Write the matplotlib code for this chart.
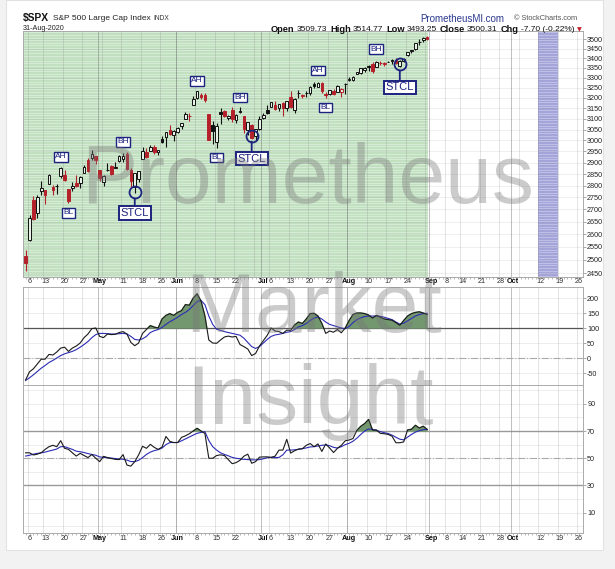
import numpy as np
import pandas as pd
import matplotlib
matplotlib.use('Agg')
import matplotlib.pyplot as plt
from matplotlib.patches import Rectangle
from matplotlib.collections import LineCollection
from matplotlib.ticker import FixedLocator, NullLocator

plt.rcParams['font.family'] = ['Liberation Sans', 'DejaVu Sans']

W, H = 615, 569

# ---------------- data ----------------
holidays = ['2020-04-10', '2020-05-25', '2020-07-03', '2020-09-07']
first_day, last_day = '2020-04-03', '2020-10-30'
prev_close = 2526.90

opens = [2514.92, 2578.28, 2738.65, 2685.00, 2776.99, 2782.46, 2805.10, 2795.64, 2799.34, 2842.43,
         2845.62, 2784.81, 2787.89, 2810.42, 2812.64, 2854.65, 2909.96, 2918.46, 2930.91,
         2869.09, 2815.01, 2868.88, 2883.14, 2878.26, 2908.83, 2915.46, 2939.50, 2865.86, 2794.54,
         2829.95, 2913.86, 2948.59, 2953.63, 2969.95, 2948.05, 3004.08, 3015.65, 3046.61, 3025.17,
         3038.78, 3064.78, 3098.90, 3111.56, 3163.84, 3199.92, 3213.32, 3213.42, 3123.53, 3071.04,
         2993.76, 3131.00, 3136.13, 3101.64, 3140.29, 3094.42, 3138.70, 3114.40, 3046.60, 3073.20,
         3018.59, 3050.20,
         3105.92, 3143.64, 3155.29, 3166.44, 3153.07, 3176.17, 3152.47, 3205.08, 3141.11, 3225.98,
         3208.36, 3224.21, 3224.29, 3268.52, 3254.86, 3271.64, 3218.58, 3219.84, 3234.27, 3227.22,
         3231.76, 3270.45,
         3288.26, 3289.92, 3317.37, 3323.17, 3340.05, 3356.04, 3370.34, 3355.46, 3372.95, 3368.66,
         3380.86, 3387.04, 3392.51, 3360.48, 3386.01, 3418.09, 3435.95, 3449.97, 3485.14, 3494.69,
         3509.73]
highs = [2538.18, 2676.85, 2756.89, 2760.75, 2818.57, 2782.46, 2851.85, 2801.88, 2806.51, 2879.22,
         2868.98, 2785.54, 2815.10, 2844.90, 2842.71, 2887.72, 2921.15, 2954.86, 2930.91,
         2869.09, 2844.24, 2898.23, 2891.11, 2901.92, 2932.16, 2944.25, 2945.82, 2874.14, 2852.80,
         2865.01, 2968.09, 2964.21, 2980.29, 2978.50, 2956.76, 3021.72, 3036.25, 3068.67, 3049.17,
         3062.18, 3081.07, 3130.94, 3128.91, 3211.72, 3233.13, 3222.71, 3223.27, 3123.53, 3088.42,
         3079.76, 3153.45, 3141.16, 3120.00, 3155.53, 3120.92, 3154.90, 3115.01, 3086.25, 3073.73,
         3053.89, 3111.51,
         3128.44, 3165.81, 3182.59, 3184.15, 3171.80, 3179.78, 3186.82, 3235.32, 3200.95, 3238.28,
         3220.39, 3233.52, 3258.61, 3277.29, 3279.32, 3279.99, 3227.26, 3241.43, 3243.72, 3264.74,
         3250.92, 3272.17,
         3302.73, 3306.84, 3330.77, 3351.03, 3352.54, 3363.29, 3381.01, 3387.89, 3387.24, 3378.51,
         3387.59, 3395.06, 3399.54, 3390.80, 3399.96, 3432.09, 3444.21, 3481.07, 3501.38, 3509.23,
         3514.77]
lows = [2459.96, 2574.57, 2657.67, 2663.30, 2762.36, 2721.17, 2805.10, 2761.54, 2764.32, 2830.88,
        2820.43, 2727.10, 2775.95, 2794.26, 2791.76, 2852.89, 2860.71, 2912.16, 2892.47,
        2821.61, 2797.85, 2863.55, 2847.65, 2876.48, 2902.88, 2903.44, 2869.59, 2793.15, 2766.64,
        2816.78, 2913.86, 2922.35, 2953.63, 2938.57, 2933.59, 2988.17, 2969.75, 3023.40, 2998.61,
        3031.54, 3051.64, 3098.90, 3090.41, 3163.84, 3196.00, 3193.11, 3181.49, 2999.49, 2984.47,
        2965.66, 3076.06, 3108.03, 3093.51, 3083.11, 3079.39, 3127.12, 3032.13, 3024.01, 3004.63,
        2999.74, 3047.83,
        3101.17, 3124.52, 3155.29, 3142.93, 3136.53, 3115.70, 3136.22, 3149.43, 3127.66, 3200.76,
        3198.59, 3205.65, 3215.16, 3247.77, 3253.10, 3222.66, 3200.05, 3214.25, 3216.17, 3227.22,
        3204.13, 3220.26,
        3284.53, 3286.37, 3317.37, 3318.14, 3328.72, 3335.44, 3326.44, 3355.46, 3363.35, 3361.64,
        3379.22, 3370.15, 3369.66, 3354.69, 3379.31, 3413.13, 3425.84, 3444.15, 3468.35, 3484.32,
        3493.25]
closes = [2488.65, 2663.68, 2659.41, 2749.98, 2789.82, 2761.63, 2846.06, 2783.36, 2799.55, 2874.56,
          2823.16, 2736.56, 2799.31, 2797.80, 2836.74, 2878.48, 2863.39, 2939.51, 2912.43,
          2830.71, 2842.74, 2868.44, 2848.42, 2881.19, 2929.80, 2930.19, 2870.12, 2820.00, 2852.50,
          2863.70, 2953.91, 2922.94, 2971.61, 2948.51, 2955.45, 2991.77, 3036.13, 3029.73, 3044.31,
          3055.73, 3080.82, 3122.87, 3112.35, 3193.93, 3232.39, 3207.18, 3190.14, 3002.10, 3041.31,
          3066.59, 3124.74, 3113.49, 3115.34, 3097.74, 3117.86, 3131.29, 3050.33, 3083.76, 3009.05,
          3053.24, 3100.29,
          3115.86, 3130.01, 3179.72, 3145.32, 3169.94, 3152.05, 3185.04, 3155.22, 3197.52, 3226.56,
          3215.57, 3224.73, 3251.84, 3257.30, 3276.02, 3235.66, 3215.63, 3239.41, 3218.44, 3258.44,
          3246.22, 3271.12,
          3294.61, 3306.51, 3327.77, 3349.16, 3351.28, 3360.47, 3333.69, 3380.35, 3373.43, 3372.85,
          3381.99, 3389.78, 3374.85, 3385.51, 3397.16, 3431.28, 3443.62, 3478.73, 3484.55, 3508.01,
          3500.31]

# upper oscillator (black) and its signal line (blue)
osc = [-73, -46, -36, -20, -4, -4, 12, 10, 20, 33, 36, 22, 33, 40, 50, 68, 80, 98, 100, 72,
       68, 80, 78, 79, 85, 88, 80, 52, 41, 50, 82, 95, 108, 103, 100, 130, 142, 148, 142, 152,
       158, 178, 176, 200, 214, 190, 140, 60, 50, 49, 60, 70, 73, 70, 72, 45, 38, 30, 8, 15,
       40, 58, 76, 100, 90, 88, 82, 93, 92, 110, 120, 115, 130, 148, 149, 140, 115, 82, 90, 86,
       95, 84, 100, 125, 145, 150, 150, 148, 143, 133, 142, 136, 130, 128, 126, 118, 109, 125, 140, 148,
       152, 154, 150, 145]
osc_sig = [-75, -66, -56, -45, -34, -25, -15, -8, 0, 8, 14, 18, 22, 28, 36, 45, 55, 68, 78, 82,
           82, 81, 80, 80, 81, 82, 80, 72, 62, 60, 64, 72, 85, 91, 95, 102, 112, 121, 128, 136,
           145, 152, 162, 175, 188, 192, 178, 140, 112, 96, 92, 88, 85, 82, 79, 76, 66, 52, 38, 32,
           38, 50, 62, 72, 77, 79, 82, 86, 88, 95, 104, 108, 115, 125, 133, 137, 130, 120, 112, 108,
           104, 100, 98, 105, 118, 128, 134, 138, 140, 140, 140, 139, 136, 132, 128, 120, 113, 116, 124, 132,
           140, 145, 148, 149]

# lower oscillator (black) and its signal line (blue)
rsi = [54, 54, 52.4, 53, 54, 56.5, 58.5, 59.5, 58.5, 62.9, 57.3, 56.5, 54, 51.6, 53.6, 52, 50.5, 52.7, 50, 47.5,
       51.4, 50.5, 49.8, 49.2, 49, 52.7, 45, 44.2, 47.5, 52.5, 58.8, 57.3, 60.2, 58, 56.5, 58.2, 66, 62.4, 61.5, 61.5,
       65.3, 66.5, 68, 70, 72, 70, 68.2, 50, 50, 52, 52.5, 52, 49, 46, 46.8, 48.5, 51.5, 53, 46.3, 47.5,
       50.8, 51, 51, 50.7, 51.5, 56, 56, 63.9, 53.8, 55.5, 56.8, 57, 59.5, 60.8, 58.5, 60.5, 55, 60.5, 57.5, 54.2,
       57.3, 59.5, 62.8, 63.4, 64.5, 70.5, 73.5, 75.5, 78.5, 70.7, 70.7, 68.3, 68, 67.5, 66.2, 61.4, 61.4, 62, 70.8, 71.3,
       74.2, 72.2, 73.5, 71.2]
rsi_sig = [51.6, 52.2, 53, 53.6, 54, 54.5, 55.3, 56, 56.8, 58.5, 58.5, 57.5, 56.5, 55.2, 54.8, 54.2, 53.4, 52.8, 52.2, 51,
           50.7, 50.4, 50.1, 49.8, 49.4, 49.3, 48.6, 47.6, 47.5, 48.5, 50.5, 52.8, 54.5, 55.6, 56.3, 57.5, 60, 61.5, 61.6, 61.6,
           62.8, 64.2, 65.6, 67, 68.3, 69, 69.5, 63, 58.5, 56, 54, 52.8, 51.8, 50.6, 50, 49.6, 49.2, 49, 48.8, 48.8,
           49, 49.6, 50.4, 50.6, 50.5, 50.6, 52.5, 56, 56, 56.2, 56.5, 57, 57.6, 58.3, 58.5, 59, 59.5, 59.8, 59.2, 58,
           57.5, 58.5, 60, 61, 62.5, 64.8, 67.5, 70, 71.5, 71.2, 70.4, 69.6, 68.8, 68.2, 67, 65.4, 64, 63.5, 65.5, 67.5,
           69.2, 70.3, 71, 71.2]

price_ticks = list(range(2450, 3501, 50))
osc_ticks = [200, 150, 100, 50, 0, -50]
rsi_ticks = [90, 70, 50, 30, 10]

date_labels = [('2020-04-06', '6'), ('2020-04-13', '13'), ('2020-04-20', '20'), ('2020-04-27', '27'),
               ('2020-05-01', 'May'), ('2020-05-11', '11'), ('2020-05-18', '18'), ('2020-05-26', '26'),
               ('2020-06-01', 'Jun'), ('2020-06-08', '8'), ('2020-06-15', '15'), ('2020-06-22', '22'),
               ('2020-07-01', 'Jul'), ('2020-07-06', '6'), ('2020-07-13', '13'), ('2020-07-20', '20'),
               ('2020-07-27', '27'), ('2020-08-03', 'Aug'), ('2020-08-10', '10'), ('2020-08-17', '17'),
               ('2020-08-24', '24'), ('2020-09-01', 'Sep'), ('2020-09-08', '8'), ('2020-09-14', '14'),
               ('2020-09-21', '21'), ('2020-09-28', '28'), ('2020-10-01', 'Oct'), ('2020-10-12', '12'),
               ('2020-10-19', '19'), ('2020-10-26', '26')]
month_names = ['May', 'Jun', 'Jul', 'Aug', 'Sep', 'Oct']

# pattern notes: label, date, price
notes = [('AH', '2020-04-17', 2925), ('BL', '2020-04-21', 2686), ('BH', '2020-05-11', 2993),
         ('AH', '2020-06-08', 3285), ('BL', '2020-06-15', 2922), ('BH', '2020-06-23', 3203),
         ('AH', '2020-07-22', 3336), ('BL', '2020-07-24', 3153), ('BH', '2020-08-12', 3447)]
# STCL: date, circle price, box price
stcl = [('2020-05-14', 2771, 2686), ('2020-06-26', 3022, 2918), ('2020-08-20', 3369, 3253)]
band_week = ('2020-10-12', '2020-10-16')

# ---------------- layout helpers ----------------
tdays = pd.bdate_range(first_day, last_day)
tdays = tdays[~tdays.isin(pd.to_datetime(holidays))]
pos = {d.strftime('%Y-%m-%d'): i for i, d in enumerate(tdays)}
n = len(closes)
x = np.arange(n)

week_starts = [i for i in range(1, len(tdays)) if tdays[i].weekday() < tdays[i - 1].weekday()]
month_starts = [i for i in range(1, len(tdays)) if tdays[i].month != tdays[i - 1].month]

navy = '#1c237e'
red = '#b5212b'
XL = (-0.67, 143.0)


def fx(px):
    return px / W


def fy(py):
    return 1 - py / H


fig = plt.figure(figsize=(W / 100, H / 100), dpi=100)
fig.patch.set_facecolor('#f2f2f2')
fig.patches.append(Rectangle((fx(6), fy(550)), fx(603) - fx(6), fy(0) - fy(550),
                             transform=fig.transFigure, facecolor='white',
                             edgecolor='#e2e2e2', lw=0.8, zorder=-5))


def make_ax(top, bottom):
    ax = fig.add_axes([fx(23), fy(bottom), fx(583) - fx(23), fy(top) - fy(bottom)])
    ax.set_xlim(*XL)
    for s in ax.spines.values():
        s.set_color('#aaaaaa')
        s.set_linewidth(0.7)
    ax.yaxis.tick_right()
    ax.tick_params(axis='y', length=2, width=0.5, color='#888888', labelsize=5.2, pad=1,
                   labelcolor='#222222')
    ax.set_xticks([])
    ax.set_xticks(np.arange(0, XL[1]), minor=True)
    ax.tick_params(axis='x', which='minor', length=1.5, width=0.5, color='#999999')
    for i in week_starts:
        ax.axvline(i - 0.5, color='#808080', alpha=0.25, lw=0.6, zorder=1)
    for i in month_starts:
        ax.axvline(i - 0.5, color='#707070', alpha=0.45, lw=0.7, zorder=1)
    return ax


def date_axis(ax, offset):
    for d, t in date_labels:
        ax.text(pos[d], offset, t, transform=ax.get_xaxis_transform(), ha='center', va='center',
                fontsize=5.2, fontweight='bold' if t in month_names else 'normal',
                color='#111111' if t in month_names else '#333333')


# ---------------- price panel ----------------
ax = make_ax(31, 277)
ax.set_yscale('log')
ax.set_ylim(2436, 3544)
ax.yaxis.set_major_locator(FixedLocator(price_ticks))
ax.yaxis.set_minor_locator(NullLocator())
ax.set_yticklabels([str(v) for v in price_ticks])
for v in price_ticks:
    ax.axhline(v, color='#808080', alpha=0.18, lw=0.5, zorder=1)

trx = ax.get_xaxis_transform()
g_end = n - 1 + 0.3
ax.add_patch(Rectangle((XL[0], 0), g_end - XL[0], 1, transform=trx, facecolor='#c0e0c0',
                       edgecolor='none', zorder=0.5))
ys = np.arange(0.005, 1, 1 / 95)
ax.add_collection(LineCollection([[(XL[0], y), (g_end, y)] for y in ys], transform=trx,
                                 colors='#e0f0e0', linewidths=0.5, zorder=0.6))
b0, b1 = pos[band_week[0]] - 0.5, pos[band_week[1]] + 0.5
ax.add_patch(Rectangle((b0, 0), b1 - b0, 1, transform=trx, facecolor='#a4a4d8',
                       edgecolor='none', zorder=0.5))
ax.add_collection(LineCollection([[(b0, y), (b1, y)] for y in ys], transform=trx,
                                 colors='#cacaee', linewidths=0.5, zorder=0.6))

for i in range(n):
    o, h, l, c = opens[i], highs[i], lows[i], closes[i]
    pc = prev_close if i == 0 else closes[i - 1]
    col = red if c < pc else '#111111'
    lo, hi = min(o, c), max(o, c)
    if hi - lo < 0.8:
        hi = lo + 0.8
    ax.vlines(i, l, h, color=col, lw=0.8, zorder=3)
    ax.add_patch(Rectangle((i - 0.34, lo), 0.68, hi - lo, facecolor=col if c < o else '#e6f2e6',
                           edgecolor=col, lw=0.7, zorder=4))

for t, d, p in notes:
    ax.text(pos[d], p, t, ha='center', va='center', fontsize=6, color=navy, zorder=6,
            bbox=dict(boxstyle='square,pad=0.15', fc='white', ec=navy, lw=1.0))
for d, cp, bp in stcl:
    ax.plot(pos[d], cp, 'o', ms=8.6, mfc='none', mec=navy, mew=1.3, zorder=6)
    ax.annotate('STCL', xy=(pos[d], cp), xytext=(pos[d], bp), textcoords='data',
                ha='center', va='center', fontsize=8, color=navy, zorder=6,
                bbox=dict(boxstyle='square,pad=0.15', fc='white', ec=navy, lw=1.4),
                arrowprops=dict(arrowstyle='-', color=navy, lw=1.3, shrinkA=0, shrinkB=4.4))
date_axis(ax, -5 / 246)

# ---------------- upper oscillator ----------------
ax2 = make_ax(287, 385)
ax2.set_ylim(-90, 236.7)
ax2.set_yticks(osc_ticks)
ax2.set_yticklabels([str(v) for v in osc_ticks])
for v in osc_ticks:
    ax2.axhline(v, color='#808080', alpha=0.2, lw=0.5, zorder=1)
ax2.axhline(100, color='#555555', lw=0.9, zorder=2)
ax2.axhline(0, color='#aaaaaa', lw=0.8, ls='-.', zorder=2)
osc_a = np.array(osc, float)
ax2.fill_between(x, osc_a, 100, where=osc_a > 100, interpolate=True, color='#73976f', zorder=2.5)
ax2.plot(x, osc_sig, color='#2b2bb5', lw=0.8, zorder=3)
ax2.plot(x, osc, color='#1a1a1a', lw=0.8, zorder=4)

# ---------------- lower oscillator ----------------
ax3 = make_ax(385, 533)
ax3.set_ylim(-4.9, 103.8)
ax3.set_yticks(rsi_ticks)
ax3.set_yticklabels([str(v) for v in rsi_ticks])
for v in range(0, 101, 10):
    ax3.axhline(v, color='#808080', alpha=0.2, lw=0.5, zorder=1)
ax3.axhline(70, color='#999999', lw=1.0, zorder=2)
ax3.axhline(30, color='#999999', lw=1.0, zorder=2)
ax3.axhline(50, color='#aaaaaa', lw=0.8, ls='-.', zorder=2)
rsi_a = np.array(rsi, float)
ax3.fill_between(x, rsi_a, 70, where=rsi_a > 70, interpolate=True, color='#73976f', zorder=2.5)
ax3.plot(x, rsi_sig, color='#2b2bb5', lw=0.8, zorder=3)
ax3.plot(x, rsi, color='#1a1a1a', lw=0.8, zorder=4)
date_axis(ax3, -5 / 148)

# ---------------- header ----------------
fig.text(fx(23), fy(18.5), '$SPX', fontsize=7.4, fontweight='bold', va='center', color='#111111')
fig.text(fx(53), fy(18.5), 'S&P 500 Large Cap Index', fontsize=6.0, va='center', color='#222222')
fig.text(fx(153), fy(18.5), 'INDX', fontsize=4.8, va='center', color='#333333')
fig.text(fx(23), fy(28.7), tdays[n - 1].strftime('%d-%b-%Y'), fontsize=5.2, va='center', color='#222222')
fig.text(fx(420), fy(18.5), 'PrometheusMI.com', fontsize=7.0, va='center', color='#2b3990')
fig.text(fx(514), fy(18.5), '\u00a9 StockCharts.com', fontsize=5.3, va='center', color='#555555')

chg = closes[-1] - closes[-2]
pieces = [('Open', True), ('%.2f' % opens[-1], False), ('High', True), ('%.2f' % highs[-1], False),
          ('Low', True), ('%.2f' % lows[-1], False), ('Close', True), ('%.2f' % closes[-1], False),
          ('Chg', True), ('%.2f (%.2f%%)' % (chg, chg / closes[-2] * 100), False)]
renderer = fig.canvas.get_renderer()
cx = 271
for txt, bold in pieces:
    t = fig.text(fx(cx), fy(29.5), txt, fontsize=6.7 if bold else 6.0,
                 fontweight='bold' if bold else 'normal', va='center', color='#111111')
    bb = t.get_window_extent(renderer)
    cx = bb.x1 + (1.8 if bold else 3.2)
fig.text(fx(cx), fy(29.5), '\u25bc', fontsize=4.5, va='center', color='#c0202a',
         family=['DejaVu Sans'])

# ---------------- watermark ----------------
for word, px_, py_ in [('Prometheus', 308, 203), ('Market', 313, 332), ('Insight', 310, 424)]:
    fig.text(fx(px_), fy(py_), word, fontsize=60.5, ha='center', va='baseline',
             color='#777777', alpha=0.38, zorder=10)

fig.savefig('out.png', dpi=100, facecolor=fig.get_facecolor())
